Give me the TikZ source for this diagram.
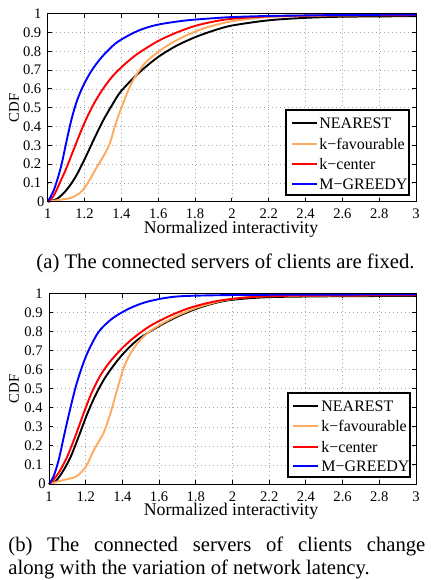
\documentclass[tikz,border=0pt]{standalone}
\usepackage{fontspec}
\setmainfont{Liberation Serif}
\definecolor{korange}{RGB}{255,170,95}
\definecolor{kred}{RGB}{255,0,0}
\definecolor{kblue}{RGB}{0,0,255}
\newcommand\cdfframe[1]{%
  \fill[white] (1,0) rectangle (3,1);
  \foreach \gx in {1.2,1.4,1.6,1.8,2,2.2,2.4,2.6,2.8} \draw[gridline] (\gx,0) -- (\gx,1);
  \foreach \gy in {0.1,0.2,0.3,0.4,0.5,0.6,0.7,0.8,0.9} \draw[gridline] (1,\gy) -- (3,\gy);
  \foreach \gx in {1.2,1.4,1.6,1.8,2,2.2,2.4,2.6,2.8} {\draw[frame] (\gx,0) -- ++(0,0.021); \draw[frame] (\gx,1) -- ++(0,-0.021);}
  \foreach \gy in {0.1,0.2,0.3,0.4,0.5,0.6,0.7,0.8,0.9} {\draw[frame] (1,\gy) -- ++(0.022,0); \draw[frame] (3,\gy) -- ++(-0.022,0);}
  \foreach \v/\t [count=\k] in {1/1,1.2/1.2,1.4/1.4,1.6/1.6,1.8/1.8,2/2,2.2/2.2,2.4/2.4,2.6/2.6,2.8/2.8,3/3}
    \node[ticklab,anchor=base,yshift=-8.5pt] (#1x\k) at (\v,0) {\t};
  \foreach \v/\t [count=\k] in {0.1/0.1,0.2/0.2,0.3/0.3,0.4/0.4,0.5/0.5,0.6/0.6,0.7/0.7,0.8/0.8,0.9/0.9,1/1}
    \node[ticklab,anchor=east,xshift=-3pt] (#1y\k) at (1,\v) {\t};
  \node[ticklab,anchor=east,xshift=-1.4pt] (#1y0) at (1,0) {0};
}
\begin{document}
\begin{tikzpicture}[x=0.5pt,y=-0.5pt,
  gridline/.style={gray!70,line width=0.4pt,dash pattern=on 0.45pt off 1.55pt},
  frame/.style={black,line width=0.5pt},
  curve/.style={line width=0.95pt,smooth,tension=0.5,line join=round},
  ticklab/.style={font=\fontsize{7.3}{8}\selectfont,inner sep=0pt},
  axlab/.style={font=\fontsize{8.9}{10}\selectfont,inner sep=0pt},
  cdflab/.style={font=\fontsize{7.4}{8}\selectfont,inner sep=0pt,rotate=90},
  leglab/.style={font=\fontsize{8}{9}\selectfont,inner sep=0pt,anchor=west},
  legbox/.style={draw=black,fill=white,line width=0.6pt},
  legline/.style={line width=0.95pt},
  caplab/.style={font=\fontsize{10.35}{11.3}\selectfont,inner sep=0pt}]
\useasboundingbox (0,0) rectangle (430,580);
\fill[white] (0,0) rectangle (430,580);

% ---------- top plot ----------
\begin{scope}[shift={(-136.5,201.7)},x=92.1pt,y=94pt]
  \cdfframe{a}
  \draw[curve,black] plot coordinates {(1,0) (1.05,0.015) (1.1,0.06) (1.15,0.13) (1.2,0.225) (1.25,0.33) (1.3,0.43) (1.35,0.515) (1.4,0.59) (1.5,0.69) (1.6,0.77) (1.7,0.83) (1.8,0.875) (1.9,0.91) (2.0,0.937) (2.2,0.965) (2.4,0.978) (2.6,0.984) (3,0.987)};
  \draw[curve,korange] plot coordinates {(1,0) (1.058,0.009) (1.131,0.022) (1.185,0.056) (1.222,0.107) (1.26,0.172) (1.31,0.255) (1.34,0.318) (1.367,0.409) (1.404,0.51) (1.44,0.598) (1.476,0.667) (1.531,0.74) (1.604,0.8) (1.676,0.846) (1.75,0.883) (1.85,0.923) (2.0,0.96) (2.2,0.982) (2.5,0.99) (3,0.993)};
  \draw[curve,kred] plot coordinates {(1,0) (1.02,0.015) (1.04,0.045) (1.07,0.11) (1.1,0.175) (1.15,0.3) (1.2,0.42) (1.25,0.52) (1.3,0.6) (1.35,0.665) (1.4,0.715) (1.45,0.758) (1.5,0.795) (1.6,0.855) (1.7,0.9) (1.8,0.935) (1.9,0.958) (2.0,0.973) (2.2,0.986) (2.5,0.991) (3,0.993)};
  \draw[curve,kblue] plot coordinates {(1,0) (1.031,0.056) (1.058,0.136) (1.078,0.21) (1.104,0.33) (1.131,0.445) (1.16,0.54) (1.195,0.621) (1.24,0.7) (1.295,0.771) (1.367,0.841) (1.44,0.885) (1.513,0.918) (1.604,0.943) (1.749,0.964) (1.9,0.976) (2.0,0.982) (2.2,0.988) (2.6,0.993) (3,0.995)};
  \draw[frame] (1,0) rectangle (3,1);
\end{scope}
\draw[legbox] (286,110) rectangle (409,195);
\draw[legline,black] (292,123) -- (317,123);
\draw[legline,korange] (292,144) -- (317,144);
\draw[legline,kred] (292,164) -- (317,164);
\draw[legline,kblue] (292,184) -- (317,184);
\node[leglab] (la1) at (319,123) {NEAREST};
\node[leglab] (la2) at (319,144) {k−favourable};
\node[leglab] (la3) at (319,164) {k−center};
\node[leglab] (la4) at (319,184) {M−GREEDY};
\node[axlab,anchor=base] (axa) at (231,233) {Normalized interactivity};
\node[cdflab] (cdfa) at (14,108) {CDF};
\node[caplab,anchor=base] (capa) at (225.5,268) {(a) The connected servers of clients are fixed.};

% ---------- bottom plot ----------
\begin{scope}[shift={(-134.5,484)},x=91.75pt,y=95.15pt]
  \cdfframe{b}
  \draw[curve,black] plot coordinates {(1,0) (1.035,0.014) (1.07,0.058) (1.115,0.136) (1.16,0.245) (1.205,0.36) (1.25,0.46) (1.3,0.55) (1.35,0.62) (1.4,0.68) (1.45,0.73) (1.5,0.77) (1.6,0.83) (1.7,0.88) (1.8,0.92) (1.9,0.95) (2.0,0.968) (2.2,0.982) (2.6,0.987) (3,0.988)};
  \draw[curve,korange] plot coordinates {(1,0) (1.071,0.019) (1.144,0.037) (1.18,0.066) (1.207,0.101) (1.244,0.178) (1.298,0.27) (1.335,0.372) (1.371,0.494) (1.407,0.61) (1.444,0.686) (1.489,0.747) (1.544,0.799) (1.616,0.843) (1.7,0.885) (1.8,0.925) (1.9,0.953) (2.0,0.972) (2.2,0.987) (3,0.993)};
  \draw[curve,kred] plot coordinates {(1,0) (1.025,0.023) (1.06,0.07) (1.1,0.145) (1.145,0.255) (1.19,0.375) (1.235,0.485) (1.28,0.57) (1.33,0.64) (1.4,0.715) (1.47,0.775) (1.55,0.83) (1.65,0.88) (1.75,0.92) (1.85,0.948) (1.95,0.967) (2.1,0.982) (2.3,0.989) (3,0.993)};
  \draw[curve,kblue] plot coordinates {(1,0) (1.025,0.04) (1.053,0.127) (1.08,0.245) (1.107,0.36) (1.144,0.505) (1.18,0.616) (1.216,0.703) (1.271,0.8) (1.344,0.869) (1.435,0.921) (1.525,0.955) (1.635,0.978) (1.744,0.988) (2.0,0.993) (2.4,0.995) (3,0.996)};
  \draw[frame] (1,0) rectangle (3,1);
\end{scope}
\draw[legbox] (288,393) rectangle (410,477);
\draw[legline,black] (293,406) -- (318,406);
\draw[legline,korange] (293,426) -- (318,426);
\draw[legline,kred] (293,447) -- (318,447);
\draw[legline,kblue] (293,466) -- (318,466);
\node[leglab] (lb1) at (321,406) {NEAREST};
\node[leglab] (lb2) at (321,426) {k−favourable};
\node[leglab] (lb3) at (321,447) {k−center};
\node[leglab] (lb4) at (321,466) {M−GREEDY};
\node[axlab,anchor=base] (axb) at (231,515) {Normalized interactivity};
\node[cdflab] (cdfb) at (14,389) {CDF};
\node[caplab,anchor=base west] (capb1) at (8,551.7) {\makebox[208.5pt][s]{(b) The connected servers of clients change}};
\node[caplab,anchor=base west] (capb2) at (8,574.3) {along with the variation of network latency.};
\end{tikzpicture}
\end{document}
